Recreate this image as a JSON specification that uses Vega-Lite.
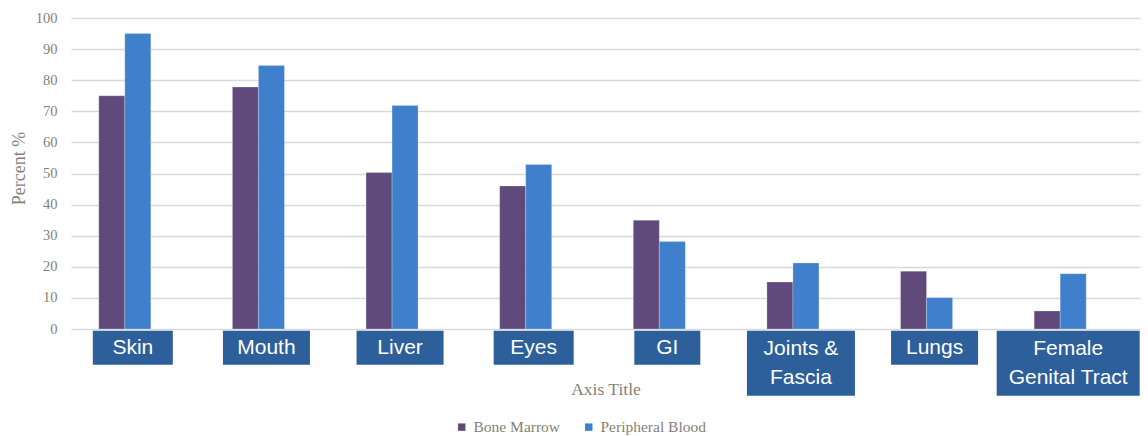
{
  "$schema": "https://vega.github.io/schema/vega-lite/v6.json",
  "width": 1069,
  "height": 311,
  "autosize": {"type": "none"},
  "padding": {"left": 71, "top": 18, "right": 8, "bottom": 107},
  "background": "white",
  "config": {
    "view": {"stroke": null},
    "text": {"lineBreak": "\n"},
    "axisY": {
      "grid": true, "gridColor": "#d9d9d9", "gridWidth": 1.6,
      "domain": false, "ticks": false, "labelOverlap": false,
      "labelFont": "Liberation Serif", "labelFontSize": 14.5, "labelColor": "#857f78",
      "labelPadding": 14,
      "titleFont": "Liberation Serif", "titleFontSize": 18,
      "titleFontWeight": "normal", "titleColor": "#857f78", "titlePadding": 7, "titleY": 150
    },
    "axisX": {
      "labels": false, "ticks": false, "domain": false, "grid": false,
      "titleFont": "Liberation Serif", "titleFontSize": 17.5,
      "titleFontWeight": "normal", "titleColor": "#857f78", "titlePadding": 51
    }
  },
  "datasets": {
    "bars": [
      {"cat": "Skin", "series": "Bone Marrow", "value": 75},
      {"cat": "Skin", "series": "Peripheral Blood", "value": 95},
      {"cat": "Mouth", "series": "Bone Marrow", "value": 77.8},
      {"cat": "Mouth", "series": "Peripheral Blood", "value": 84.7},
      {"cat": "Liver", "series": "Bone Marrow", "value": 50.3},
      {"cat": "Liver", "series": "Peripheral Blood", "value": 71.9},
      {"cat": "Eyes", "series": "Bone Marrow", "value": 46},
      {"cat": "Eyes", "series": "Peripheral Blood", "value": 52.9},
      {"cat": "GI", "series": "Bone Marrow", "value": 35},
      {"cat": "GI", "series": "Peripheral Blood", "value": 28.1},
      {"cat": "Joints & Fascia", "series": "Bone Marrow", "value": 15.1},
      {"cat": "Joints & Fascia", "series": "Peripheral Blood", "value": 21.2},
      {"cat": "Lungs", "series": "Bone Marrow", "value": 18.6},
      {"cat": "Lungs", "series": "Peripheral Blood", "value": 10.1},
      {"cat": "Female Genital Tract", "series": "Bone Marrow", "value": 5.8},
      {"cat": "Female Genital Tract", "series": "Peripheral Blood", "value": 17.8}
    ],
    "cats": [
      {"cat": "Skin", "label": "Skin"},
      {"cat": "Mouth", "label": "Mouth"},
      {"cat": "Liver", "label": "Liver"},
      {"cat": "Eyes", "label": "Eyes"},
      {"cat": "GI", "label": "GI"},
      {"cat": "Joints & Fascia", "label": "Joints &\nFascia"},
      {"cat": "Lungs", "label": "Lungs"},
      {"cat": "Female Genital Tract", "label": "Female\nGenital Tract"}
    ]
  },
  "resolve": {"axis": {"x": "independent", "y": "independent"}},
  "layer": [
    {
      "data": {"name": "bars"},
      "mark": {"type": "bar", "stroke": "#ffffff", "strokeWidth": 0.4, "strokeOpacity": 0.6},
      "encoding": {
        "x": {
          "field": "cat", "type": "nominal",
          "scale": {
            "domain": ["Skin", "Mouth", "Liver", "Eyes", "GI", "Joints & Fascia", "Lungs", "Female Genital Tract"],
            "paddingInner": 0.416, "paddingOuter": 0.208
          },
          "axis": {"title": "Axis Title"}
        },
        "xOffset": {
          "field": "series", "type": "nominal",
          "scale": {"domain": ["Bone Marrow", "Peripheral Blood", "Series 3"], "paddingInner": 0, "paddingOuter": 0}
        },
        "y": {
          "field": "value", "type": "quantitative",
          "scale": {"domain": [0, 100], "nice": false, "zero": true},
          "axis": {"title": "Percent %", "values": [0, 10, 20, 30, 40, 50, 60, 70, 80, 90, 100]}
        },
        "color": {
          "field": "series", "type": "nominal",
          "scale": {"domain": ["Bone Marrow", "Peripheral Blood"], "range": ["#604a7b", "#3f7fcc"]},
          "legend": {
            "title": null, "orient": "none", "direction": "horizontal",
            "legendX": 383, "legendY": 401,
            "symbolType": "square", "symbolSize": 55, "symbolStrokeWidth": 0,
            "labelFont": "Liberation Serif", "labelFontSize": 15.5, "labelColor": "#857f78",
            "labelOffset": 4, "columnPadding": 20
          }
        }
      }
    },
    {
      "data": {"name": "cats"},
      "transform": [
        {"calculate": "split(datum.label, '\\n')", "as": "lines"},
        {"calculate": "length(datum.lines)", "as": "nlines"},
        {"calculate": "max(length(datum.lines[0]), datum.nlines > 1 ? length(datum.lines[1]) : 0)", "as": "maxlen"},
        {"calculate": "7 * datum.maxlen + 52", "as": "boxW"},
        {"calculate": "-0.6", "as": "ytop"},
        {"calculate": "-1.5 - 10 * datum.nlines", "as": "ybot"},
        {"calculate": "(datum.ytop + datum.ybot) / 2 + (datum.nlines - 1) * 4.66", "as": "ytext"}
      ],
      "layer": [
        {
          "mark": {"type": "rect", "color": "#2d5f9b", "width": {"expr": "datum.boxW"}, "xOffset": -5},
          "encoding": {
            "x": {"field": "cat", "type": "nominal", "axis": null},
            "y": {"field": "ytop", "type": "quantitative", "axis": null},
            "y2": {"field": "ybot"}
          }
        },
        {
          "mark": {"type": "text", "color": "#ffffff", "font": "Liberation Sans", "fontSize": 21, "lineHeight": 29, "baseline": "middle", "align": "center", "xOffset": -5},
          "encoding": {
            "x": {"field": "cat", "type": "nominal", "axis": null},
            "y": {"field": "ytext", "type": "quantitative", "axis": null},
            "text": {"field": "label"}
          }
        }
      ]
    }
  ]
}
